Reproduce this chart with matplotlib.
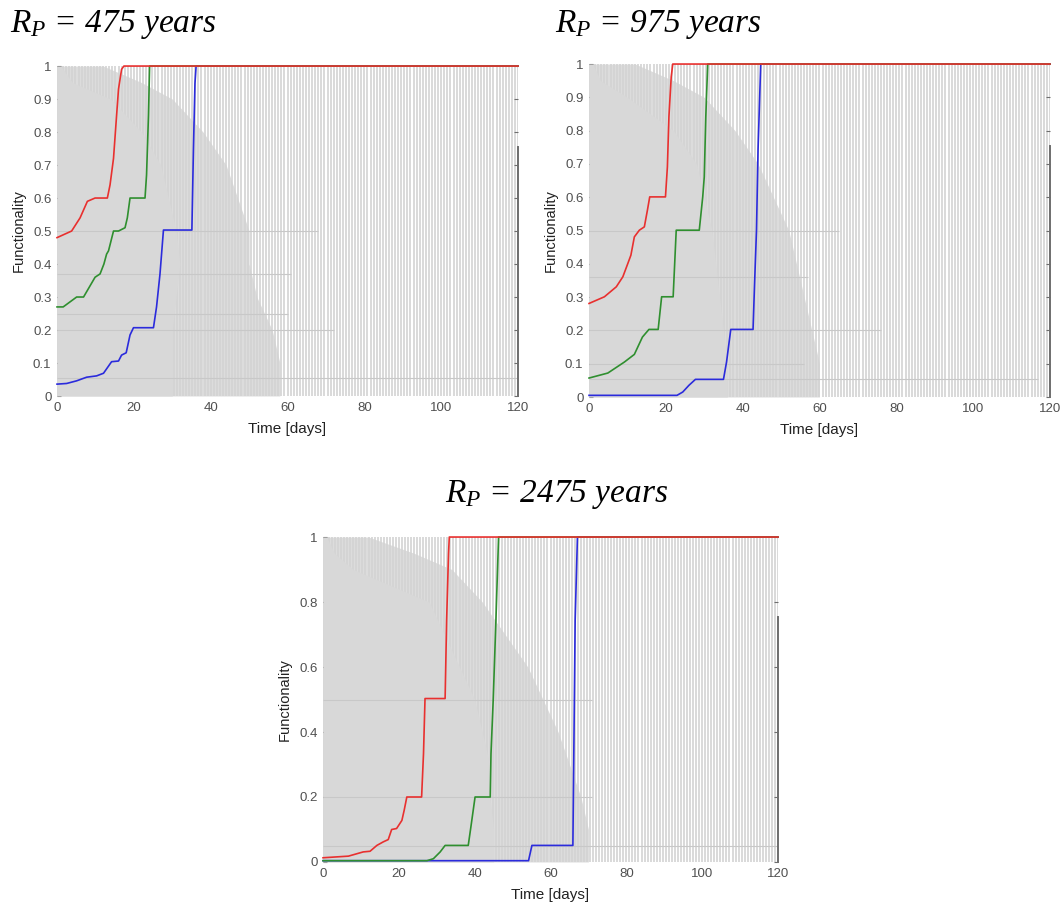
import numpy as np
import matplotlib.pyplot as plt

plt.rcParams['font.family'] = ['Liberation Sans', 'DejaVu Sans']
plt.rcParams['mathtext.fontset'] = 'custom'
plt.rcParams['mathtext.it'] = 'Liberation Serif:italic'
plt.rcParams['mathtext.rm'] = 'Liberation Serif'

# mean / percentile recovery curves
# RP = 475
red_t_475 = [0, 3.8, 6.0, 7.9, 9.9, 13.1, 13.8, 14.7, 15.5, 16.0, 16.8, 17.4, 120]
red_y_475 = [0.48, 0.50, 0.54, 0.59, 0.60, 0.60, 0.64, 0.72, 0.85, 0.93, 0.99, 1.0, 1.0]
green_t_475 = [0, 1.6, 5.1, 6.9, 8.4, 9.9, 11.2, 12.2, 12.9, 13.4, 14.7, 16.0, 17.7, 18.3, 19.0, 22.9, 23.3, 23.8, 24.1, 120]
green_y_475 = [0.27, 0.27, 0.30, 0.30, 0.33, 0.36, 0.37, 0.40, 0.43, 0.44, 0.50, 0.50, 0.51, 0.54, 0.60, 0.60, 0.67, 0.85, 1.0, 1.0]
blue_t_475 = [0, 2.5, 5.1, 7.7, 10.3, 12.1, 14.2, 16.0, 16.8, 18.0, 19.0, 19.9, 25.1, 25.9, 26.8, 27.7, 35.1, 35.5, 35.9, 36.2, 120]
blue_y_475 = [0.036, 0.038, 0.046, 0.057, 0.061, 0.069, 0.104, 0.106, 0.124, 0.131, 0.185, 0.207, 0.207, 0.27, 0.37, 0.503, 0.503, 0.745, 0.947, 1.0, 1.0]

# RP = 975
red_t_975 = [0, 4.0, 7.1, 8.8, 10.1, 10.9, 11.8, 13.1, 14.4, 15.2, 15.8, 19.9, 20.4, 20.8, 21.4, 21.8, 120]
red_y_975 = [0.281, 0.301, 0.331, 0.361, 0.401, 0.426, 0.481, 0.501, 0.511, 0.561, 0.601, 0.601, 0.691, 0.842, 0.962, 1.0, 1.0]
green_t_975 = [0, 4.9, 9.2, 11.8, 13.9, 15.6, 18.0, 18.9, 21.9, 22.7, 28.7, 29.6, 30.0, 30.4, 30.9, 120]
green_y_975 = [0.057, 0.072, 0.105, 0.128, 0.18, 0.203, 0.203, 0.301, 0.301, 0.501, 0.501, 0.601, 0.661, 0.842, 1.0, 1.0]
blue_t_975 = [0, 22.9, 24.4, 26.0, 27.7, 35.0, 35.8, 36.9, 42.7, 43.1, 43.6, 44.0, 44.7, 120]
blue_y_975 = [0.005, 0.005, 0.015, 0.035, 0.053, 0.053, 0.105, 0.203, 0.203, 0.341, 0.501, 0.742, 1.0, 1.0]

# RP = 2475
red_t_2475 = [0, 6.7, 10.6, 12.4, 14.2, 15.9, 17.2, 18.1, 19.4, 20.8, 21.4, 22.1, 26.0, 26.5, 26.9, 32.2, 32.6, 33.1, 33.3, 120]
red_y_2475 = [0.013, 0.018, 0.031, 0.033, 0.051, 0.062, 0.069, 0.10, 0.103, 0.128, 0.159, 0.20, 0.20, 0.333, 0.503, 0.503, 0.744, 0.949, 1.0, 1.0]
green_t_2475 = [0, 27.4, 29.1, 30.9, 32.2, 38.3, 39.0, 40.1, 44.1, 44.3, 44.9, 45.6, 46.3, 120]
green_y_2475 = [0.004, 0.004, 0.01, 0.031, 0.051, 0.051, 0.108, 0.20, 0.20, 0.333, 0.503, 0.744, 1.0, 1.0]
blue_t_2475 = [0, 54.2, 55.1, 65.9, 66.5, 67.1, 120]
blue_y_2475 = [0.004, 0.004, 0.051, 0.051, 0.744, 1.0, 1.0]

# extent of the simulated curve cloud (grey background)
env_y = [0, 0.1, 0.2, 0.3, 0.4, 0.5, 0.6, 0.7, 0.8, 0.9, 0.95, 1.0]
dense_475 = [30, 30, 30, 31, 32, 31, 29, 27, 22, 14, 4, 1]
mid_475 = [58, 58, 56, 52, 50, 50, 47, 44, 38, 30, 22, 12]
dense_975 = [36, 36, 35, 34, 33, 32, 30, 28, 22, 10, 3, 1]
mid_975 = [60, 60, 58, 56, 54, 52, 48, 44, 38, 30, 22, 12]
dense_2475 = [45, 45, 44, 44, 42, 40, 36, 32, 28, 8, 3, 1]
mid_2475 = [70, 70, 68, 65, 62, 58, 54, 48, 42, 34, 24, 12]

# long flat plateaus of single simulations
hl_y_475 = [0.5, 0.37, 0.25, 0.2, 0.055]
hl_end_475 = [68, 61, 60, 72, 120]
hl_y_975 = [0.5, 0.36, 0.2, 0.1, 0.053]
hl_end_975 = [65, 57, 76, 56, 117]
hl_y_2475 = [0.5, 0.2, 0.05]
hl_end_2475 = [71, 71, 120]

time_step = 0.8
sim_times = np.arange(0, 120.01, time_step)

panels = [
    dict(rect=[0.0536, 0.5653, 0.4333, 0.3622], title="475", tx=0.009, ty=1 - 32 / 911, ha='left',
         yticks=np.arange(0, 1.01, 0.1), red=(red_t_475, red_y_475), green=(green_t_475, green_y_475),
         blue=(blue_t_475, blue_y_475), dense=dense_475, mid=mid_475, hl=(hl_y_475, hl_end_475)),
    dict(rect=[0.5536, 0.5642, 0.4332, 0.3655], title="975", tx=0.522, ty=1 - 32 / 911, ha='left',
         yticks=np.arange(0, 1.01, 0.1), red=(red_t_975, red_y_975), green=(green_t_975, green_y_975),
         blue=(blue_t_975, blue_y_975), dense=dense_975, mid=mid_975, hl=(hl_y_975, hl_end_975)),
    dict(rect=[0.3036, 0.0538, 0.4276, 0.3567], title="2475", tx=0.523, ty=1 - 502 / 911, ha='center',
         yticks=np.arange(0, 1.01, 0.2), red=(red_t_2475, red_y_2475), green=(green_t_2475, green_y_2475),
         blue=(blue_t_2475, blue_y_2475), dense=dense_2475, mid=mid_2475, hl=(hl_y_2475, hl_end_2475)),
]

fig = plt.figure(figsize=(10.64, 9.11), dpi=100)

for p in panels:
    ax = fig.add_axes(p['rect'])
    ax.fill_betweenx(env_y, 0, p['mid'], color='#dcdcdc', lw=0, zorder=1)
    ax.vlines(sim_times, 0, 1, colors='#d3d3d3', lw=1.2, zorder=1.5)
    ax.fill_betweenx(env_y, 0, p['dense'], color='#d8d8d8', lw=0, zorder=2)
    ax.hlines(p['hl'][0], 0, p['hl'][1], colors='#c8c8c8', lw=0.8, zorder=2.5)

    ax.plot(*p['blue'], color='#2b2bdc', lw=1.2, zorder=3, clip_on=False)
    ax.plot(*p['green'], color='#2f8f2f', lw=1.2, zorder=4, clip_on=False)
    ax.plot(*p['red'], color='#e8302f', lw=1.2, zorder=5, clip_on=False)

    ax.set_xlim(0, 120)
    ax.set_ylim(0, 1)
    ax.set_xticks(np.arange(0, 121, 20))
    ax.set_yticks(p['yticks'])
    ax.set_yticklabels(['%g' % round(v, 1) for v in p['yticks']])
    for s in ['top', 'left', 'bottom']:
        ax.spines[s].set_visible(False)
    ax.spines['right'].set_bounds(0, 0.755)
    ax.spines['right'].set_color('#6e6e6e')
    ax.spines['right'].set_linewidth(1.4)
    ax.tick_params(axis='both', length=0, labelsize=9.5, labelcolor='#505050', pad=4)
    ax.tick_params(axis='y', right=True, direction='in', length=3, color='#6e6e6e')
    ax.set_xlabel('Time [days]', fontsize=11, color='#222222', labelpad=6)
    ax.set_ylabel('Functionality', fontsize=10.5, color='#222222', labelpad=5)

    fig.text(p['tx'], p['ty'], r"$R_P$ = " + p['title'] + " years", ha=p['ha'], va='baseline',
             family='Liberation Serif', style='italic', fontsize=24)

plt.savefig('out.png', dpi=100, facecolor='white')
